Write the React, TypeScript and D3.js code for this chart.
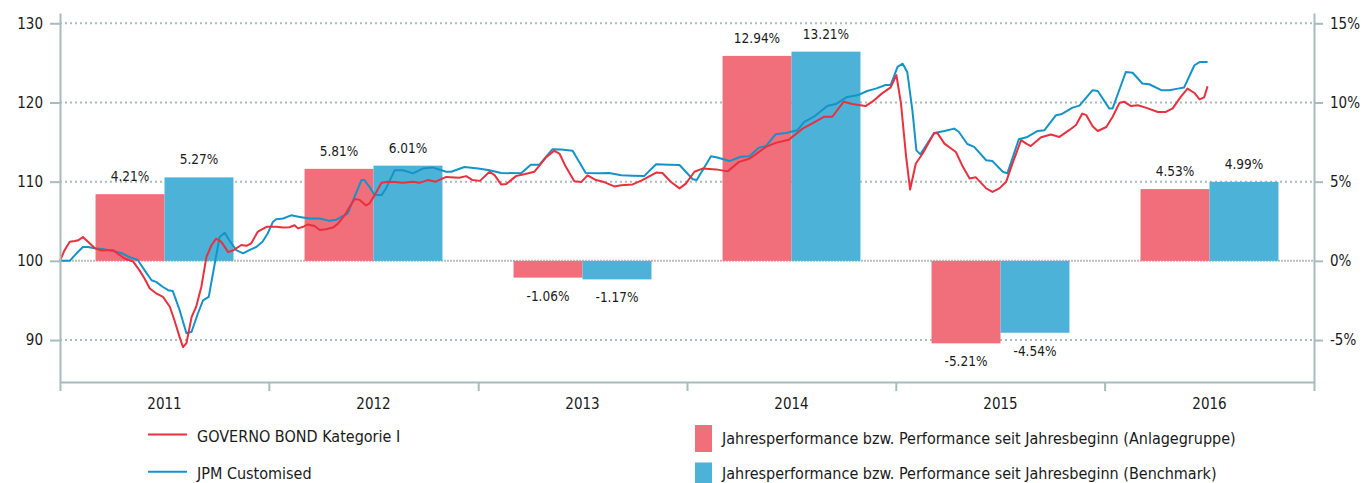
import { useRef, useEffect } from 'react'
import * as d3 from 'd3'

const years = ['2011', '2012', '2013', '2014', '2015', '2016']
const fundPerf = [4.21, 5.81, -1.06, 12.94, -5.21, 4.53]
const benchPerf = [5.27, 6.01, -1.17, 13.21, -4.54, 4.99]
const leftTicks = [90, 100, 110, 120, 130]
const rightTicks = [-5, 0, 5, 10, 15]

const fundLabel = 'GOVERNO BOND Kategorie I'
const benchLabel = 'JPM Customised'
const fundBarLabel = 'Jahresperformance bzw. Performance seit Jahresbeginn (Anlagegruppe)'
const benchBarLabel = 'Jahresperformance bzw. Performance seit Jahresbeginn (Benchmark)'

// indexed price series (start = 100)
const fundSeries: [string, number][] = [
  ['2011-01-01', 100.0], ['2011-01-09', 101.35], ['2011-01-18', 102.4], ['2011-01-27', 102.5],
  ['2011-02-02', 102.6], ['2011-02-10', 103.0], ['2011-02-19', 102.4], ['2011-03-03', 101.6],
  ['2011-03-14', 101.3], ['2011-03-26', 101.35], ['2011-04-04', 101.35], ['2011-04-12', 100.9],
  ['2011-04-24', 100.3], ['2011-05-09', 99.9], ['2011-05-20', 98.8], ['2011-05-29', 97.75],
  ['2011-06-07', 96.5], ['2011-06-18', 95.9], ['2011-06-30', 95.45], ['2011-07-12', 94.2],
  ['2011-07-20', 92.5], ['2011-07-29', 90.4], ['2011-08-04', 89.1], ['2011-08-10', 89.6],
  ['2011-08-19', 92.9], ['2011-08-27', 94.2], ['2011-09-05', 96.7], ['2011-09-14', 100.5],
  ['2011-09-23', 102.0], ['2011-10-01', 102.8], ['2011-10-10', 102.4], ['2011-10-22', 101.1],
  ['2011-10-30', 101.3], ['2011-11-14', 102.0], ['2011-11-23', 101.9], ['2011-12-01', 102.2],
  ['2011-12-13', 103.7], ['2011-12-28', 104.3], ['2012-01-14', 104.3], ['2012-01-26', 104.2],
  ['2012-02-06', 104.25], ['2012-02-15', 104.5], ['2012-02-21', 104.1], ['2012-03-01', 104.3],
  ['2012-03-09', 104.6], ['2012-03-21', 104.4], ['2012-03-30', 103.9], ['2012-04-10', 104.0],
  ['2012-04-22', 104.2], ['2012-05-01', 104.7], ['2012-05-13', 105.8], ['2012-05-21', 106.8],
  ['2012-05-30', 107.8], ['2012-06-08', 107.7], ['2012-06-19', 107.0], ['2012-06-25', 107.25],
  ['2012-07-04', 108.3], ['2012-07-16', 109.85], ['2012-07-27', 110.0], ['2012-08-08', 109.95],
  ['2012-08-22', 109.85], ['2012-09-09', 110.0], ['2012-09-20', 109.85], ['2012-10-05', 110.2],
  ['2012-10-19', 110.0], ['2012-11-06', 110.6], ['2012-11-29', 110.5], ['2012-12-11', 110.7],
  ['2012-12-22', 110.2], ['2013-01-04', 110.1], ['2013-01-21', 111.25], ['2013-01-30', 110.8],
  ['2013-02-10', 109.65], ['2013-02-19', 109.7], ['2013-03-08', 110.7], ['2013-03-26', 111.0],
  ['2013-04-09', 111.25], ['2013-04-30', 113.1], ['2013-05-14', 113.9], ['2013-05-23', 113.55],
  ['2013-06-03', 111.9], ['2013-06-18', 110.05], ['2013-06-30', 109.95], ['2013-07-11', 110.8],
  ['2013-07-26', 110.2], ['2013-08-09', 109.95], ['2013-08-27', 109.4], ['2013-09-08', 109.55],
  ['2013-09-28', 109.65], ['2013-10-15', 110.2], ['2013-11-08', 111.15], ['2013-11-19', 111.1],
  ['2013-12-04', 109.95], ['2013-12-19', 109.15], ['2013-12-30', 109.75], ['2014-01-14', 111.25],
  ['2014-01-28', 111.65], ['2014-02-21', 111.55], ['2014-03-13', 111.3], ['2014-04-02', 112.5],
  ['2014-04-20', 112.9], ['2014-05-01', 113.45], ['2014-05-19', 114.4], ['2014-06-05', 114.9],
  ['2014-06-28', 115.3], ['2014-07-22', 116.7], ['2014-08-08', 117.35], ['2014-08-29', 118.2],
  ['2014-09-12', 118.2], ['2014-10-02', 120.1], ['2014-10-17', 119.8], ['2014-11-09', 119.55],
  ['2014-11-21', 120.1], ['2014-12-08', 121.15], ['2014-12-23', 121.9], ['2015-01-02', 123.45],
  ['2015-01-10', 119.9], ['2015-01-19', 113.15], ['2015-01-26', 109.0], ['2015-02-05', 112.3],
  ['2015-02-17', 113.55], ['2015-03-09', 116.15], ['2015-03-15', 116.1], ['2015-03-27', 114.8],
  ['2015-04-16', 113.75], ['2015-04-28', 111.9], ['2015-05-10', 110.4], ['2015-05-21', 110.55],
  ['2015-06-08', 109.15], ['2015-06-19', 108.7], ['2015-07-01', 109.15], ['2015-07-13', 110.0],
  ['2015-07-24', 112.3], ['2015-08-08', 115.25], ['2015-08-17', 114.8], ['2015-08-25', 114.5],
  ['2015-09-12', 115.6], ['2015-09-29', 115.95], ['2015-10-14', 115.65], ['2015-10-31', 116.5],
  ['2015-11-12', 117.15], ['2015-11-23', 118.6], ['2015-11-30', 118.4], ['2015-12-11', 117.0],
  ['2015-12-20', 116.4], ['2016-01-04', 116.9], ['2016-01-15', 118.2], ['2016-01-27', 119.95],
  ['2016-02-04', 120.1], ['2016-02-16', 119.55], ['2016-02-28', 119.65], ['2016-03-13', 119.35],
  ['2016-04-03', 118.8], ['2016-04-17', 118.8], ['2016-04-29', 119.25], ['2016-05-13', 120.7],
  ['2016-05-25', 121.75], ['2016-06-06', 121.2], ['2016-06-15', 120.4], ['2016-06-23', 120.65],
  ['2016-06-29', 122.05],
]

const benchSeries: [string, number][] = [
  ['2011-01-01', 100.0], ['2011-01-18', 100.0], ['2011-01-30', 100.95], ['2011-02-10', 101.75],
  ['2011-02-19', 101.75], ['2011-03-05', 101.55], ['2011-03-20', 101.45], ['2011-04-04', 101.25],
  ['2011-04-18', 101.0], ['2011-05-03', 100.45], ['2011-05-17', 100.1], ['2011-05-29', 98.8],
  ['2011-06-10', 97.55], ['2011-06-18', 97.35], ['2011-06-30', 96.7], ['2011-07-09', 96.3],
  ['2011-07-17', 96.2], ['2011-07-29', 93.8], ['2011-08-10', 90.85], ['2011-08-19', 91.05],
  ['2011-08-30', 93.35], ['2011-09-08', 95.0], ['2011-09-18', 95.45], ['2011-09-28', 99.45],
  ['2011-10-07', 103.0], ['2011-10-16', 103.55], ['2011-10-24', 102.6], ['2011-11-05', 101.35],
  ['2011-11-17', 100.95], ['2011-11-28', 101.35], ['2011-12-10', 101.75], ['2011-12-21', 102.4],
  ['2011-12-30', 103.45], ['2012-01-08', 104.9], ['2012-01-14', 105.25], ['2012-01-26', 105.35],
  ['2012-02-09', 105.75], ['2012-02-24', 105.55], ['2012-03-12', 105.35], ['2012-03-30', 105.35],
  ['2012-04-16', 105.05], ['2012-04-28', 105.2], ['2012-05-18', 106.0], ['2012-05-30', 108.1],
  ['2012-06-11', 110.2], ['2012-06-16', 110.2], ['2012-06-25', 109.35], ['2012-07-04', 108.3],
  ['2012-07-16', 108.3], ['2012-07-24', 109.15], ['2012-08-08', 111.45], ['2012-08-22', 111.45],
  ['2012-09-09', 111.05], ['2012-09-26', 111.65], ['2012-10-13', 111.8], ['2012-11-06', 111.25],
  ['2012-11-15', 111.25], ['2012-12-08', 111.85], ['2013-01-01', 111.65], ['2013-01-21', 111.45],
  ['2013-02-10', 111.1], ['2013-03-17', 111.05], ['2013-04-03', 112.15], ['2013-04-18', 112.15],
  ['2013-05-11', 114.1], ['2013-05-26', 114.05], ['2013-06-15', 113.9], ['2013-07-08', 111.1],
  ['2013-08-01', 111.05], ['2013-08-18', 111.1], ['2013-09-08', 110.8], ['2013-09-28', 110.75],
  ['2013-10-18', 110.7], ['2013-11-08', 112.2], ['2013-12-01', 112.15], ['2013-12-19', 112.1],
  ['2014-01-11', 110.3], ['2014-01-18', 110.2], ['2014-02-12', 113.2], ['2014-02-23', 113.05],
  ['2014-03-16', 112.6], ['2014-04-05', 113.15], ['2014-04-20', 113.2], ['2014-05-07', 114.3],
  ['2014-05-19', 114.5], ['2014-06-05', 116.0], ['2014-06-23', 116.15], ['2014-07-13', 116.5],
  ['2014-07-25', 117.55], ['2014-08-11', 118.2], ['2014-09-03', 119.55], ['2014-09-18', 119.8],
  ['2014-10-08', 120.7], ['2014-10-26', 120.9], ['2014-11-12', 121.45], ['2014-11-27', 121.75],
  ['2014-12-14', 122.2], ['2014-12-23', 122.2], ['2015-01-04', 124.5], ['2015-01-13', 124.9],
  ['2015-01-21', 123.85], ['2015-01-30', 119.0], ['2015-02-06', 113.95], ['2015-02-13', 113.45],
  ['2015-03-09', 116.15], ['2015-03-27', 116.4], ['2015-04-13', 116.7], ['2015-04-21', 116.3],
  ['2015-05-06', 114.75], ['2015-05-18', 114.4], ['2015-06-08', 112.7], ['2015-06-19', 112.6],
  ['2015-07-07', 111.25], ['2015-07-15', 111.05], ['2015-08-04', 115.35], ['2015-08-19', 115.65],
  ['2015-09-06', 116.4], ['2015-09-18', 116.5], ['2015-10-08', 118.4], ['2015-10-17', 118.5],
  ['2015-11-06', 119.35], ['2015-11-18', 119.6], ['2015-12-11', 121.55], ['2015-12-20', 121.45],
  ['2016-01-09', 119.25], ['2016-01-15', 119.25], ['2016-02-07', 123.85], ['2016-02-19', 123.75],
  ['2016-03-07', 122.4], ['2016-03-19', 122.3], ['2016-04-09', 121.55], ['2016-04-23', 121.55],
  ['2016-05-08', 121.75], ['2016-05-19', 121.9], ['2016-06-06', 124.7], ['2016-06-15', 125.1],
  ['2016-06-29', 125.1],
]

const FONT = '"DejaVu Sans Condensed", "DejaVu Sans", Tahoma, sans-serif'
const AXIS = '#a7bcbc'
const RED_LINE = '#e8303f'
const BLUE_LINE = '#1493c9'
const RED_BAR = '#f06f7b'
const BLUE_BAR = '#4db2d8'
const TEXT = '#1a1a1a'

const App = () => {
  const svgRef = useRef<SVGSVGElement>(null)

  useEffect(() => {
    if (!svgRef.current) return
    const width = 1362
    const height = 483
    const margin = { top: 13, right: 48, bottom: 101, left: 60 }
    const innerWidth = width - margin.left - margin.right
    const innerHeight = height - margin.top - margin.bottom

    const svg = d3.select(svgRef.current)
    svg.selectAll('*').remove()
    svg.attr('width', width).attr('height', height)

    const g = svg.append('g')
      .attr('transform', `translate(${margin.left},${margin.top})`)

    const parse = d3.utcParse('%Y-%m-%d')

    const x = d3.scaleUtc()
      .domain([new Date(Date.UTC(2011, 0, 1)), new Date(Date.UTC(2017, 0, 1))])
      .range([0, innerWidth])

    const yLeft = d3.scaleLinear().domain([84.7, 131.3]).range([innerHeight, 0])
    const yRight = d3.scaleLinear().domain([-7.65, 15.65]).range([innerHeight, 0])

    const band = d3.scaleBand<string>()
      .domain(years)
      .range([0, innerWidth])
      .paddingInner(0.34)
      .paddingOuter(0.17)
    const sub = d3.scaleBand<string>()
      .domain(['fund', 'bench'])
      .range([0, band.bandwidth()])

    // grid
    g.append('g')
      .selectAll('line')
      .data(leftTicks)
      .join('line')
      .attr('x1', 0)
      .attr('x2', innerWidth)
      .attr('y1', d => yLeft(d))
      .attr('y2', d => yLeft(d))
      .attr('stroke', d => d === 100 ? '#bdbdbd' : AXIS)
      .attr('stroke-width', 2)
      .attr('stroke-dasharray', d => d === 100 ? '2,1' : '2,3')

    // bars
    const barData = years.flatMap((yr, i) => [
      { year: yr, key: 'fund', value: fundPerf[i], color: RED_BAR },
      { year: yr, key: 'bench', value: benchPerf[i], color: BLUE_BAR },
    ])

    g.append('g')
      .selectAll('rect')
      .data(barData)
      .join('rect')
      .attr('x', d => (band(d.year) || 0) + (sub(d.key) || 0))
      .attr('width', sub.bandwidth())
      .attr('y', d => yRight(Math.max(0, d.value)))
      .attr('height', d => Math.abs(yRight(d.value) - yRight(0)))
      .attr('fill', d => d.color)

    g.append('g')
      .selectAll('text')
      .data(barData)
      .join('text')
      .attr('x', d => (band(d.year) || 0) + (sub(d.key) || 0) + sub.bandwidth() / 2)
      .attr('y', d => d.value >= 0 ? yRight(d.value) - 13 : yRight(d.value) + 23)
      .attr('text-anchor', 'middle')
      .attr('font-family', FONT)
      .attr('font-size', '13.5px')
      .attr('fill', TEXT)
      .text(d => `${d.value.toFixed(2)}%`)

    // lines
    const line = d3.line<[string, number]>()
      .x(d => x(parse(d[0]) as Date))
      .y(d => yLeft(d[1]))

    g.append('path')
      .datum(benchSeries)
      .attr('fill', 'none')
      .attr('stroke', BLUE_LINE)
      .attr('stroke-width', 2)
      .attr('stroke-linejoin', 'round')
      .attr('d', line)

    g.append('path')
      .datum(fundSeries)
      .attr('fill', 'none')
      .attr('stroke', RED_LINE)
      .attr('stroke-width', 2)
      .attr('stroke-linejoin', 'round')
      .attr('d', line)

    // axes
    const styleAxis = (sel: d3.Selection<SVGGElement, unknown, null, undefined>) => {
      sel.select('.domain').attr('stroke', AXIS).attr('stroke-width', 2)
      sel.selectAll('.tick line').attr('stroke', AXIS).attr('stroke-width', 2)
      sel.selectAll('.tick text')
        .attr('fill', TEXT)
        .attr('font-family', FONT)
        .attr('font-size', '15px')
    }

    g.append('g')
      .call(d3.axisLeft(yLeft).tickValues(leftTicks).tickSize(10).tickSizeOuter(0).tickPadding(7))
      .call(styleAxis)

    g.append('g')
      .attr('transform', `translate(${innerWidth},0)`)
      .call(d3.axisRight(yRight).tickValues(rightTicks).tickSize(9).tickSizeOuter(0).tickPadding(7)
        .tickFormat(d => `${d}%`))
      .call(styleAxis)

    g.append('g')
      .attr('transform', `translate(0,${innerHeight})`)
      .call(d3.axisBottom(x).ticks(d3.utcYear.every(1)).tickSize(9).tickSizeOuter(0).tickFormat(() => ''))
      .call(styleAxis)

    g.append('g')
      .selectAll('text')
      .data(years)
      .join('text')
      .attr('x', d => (band(d) || 0) + band.bandwidth() / 2)
      .attr('y', innerHeight + 27)
      .attr('text-anchor', 'middle')
      .attr('font-family', FONT)
      .attr('font-size', '15px')
      .attr('fill', TEXT)
      .text(d => d)

    // legend
    const legend = svg.append('g')
      .attr('font-family', FONT)
      .attr('font-size', '16px')
      .attr('fill', TEXT)

    const lineItems = [
      { label: fundLabel, color: RED_LINE },
      { label: benchLabel, color: BLUE_LINE },
    ]
    lineItems.forEach((item, i) => {
      const ly = 434.5 + i * 37.3
      legend.append('line')
        .attr('x1', 148).attr('x2', 187)
        .attr('y1', ly).attr('y2', ly)
        .attr('stroke', item.color)
        .attr('stroke-width', 2)
      legend.append('text')
        .attr('x', 197)
        .attr('y', ly + 7)
        .text(item.label)
    })

    const barItems = [
      { label: fundBarLabel, color: RED_BAR },
      { label: benchBarLabel, color: BLUE_BAR },
    ]
    barItems.forEach((item, i) => {
      const top = 425 + i * 37.5
      legend.append('rect')
        .attr('x', 695).attr('y', top)
        .attr('width', 17).attr('height', 27)
        .attr('fill', item.color)
      legend.append('text')
        .attr('x', 722)
        .attr('y', top + 18.5 - i * 2.5)
        .text(item.label)
    })
  }, [])

  return (
    <div style={{ position: 'absolute', left: 0, top: 0 }}>
      <svg ref={svgRef} style={{ display: 'block' }} />
    </div>
  )
}

export default App
